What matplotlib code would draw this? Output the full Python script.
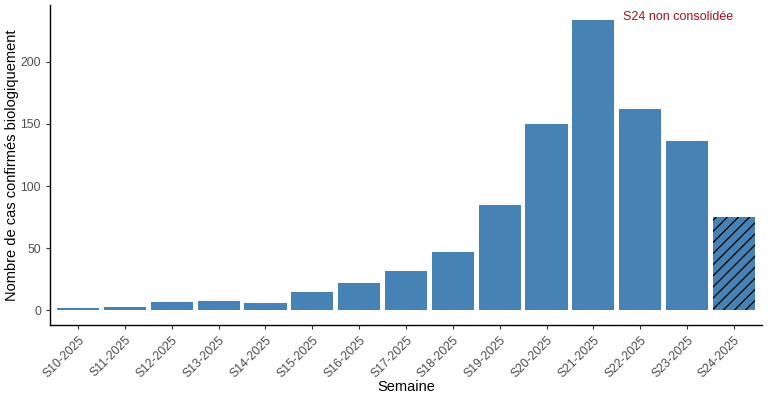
import matplotlib.pyplot as plt
from matplotlib.ticker import FixedLocator

plt.rcParams['font.family'] = ['Liberation Sans', 'DejaVu Sans']
plt.rcParams['hatch.linewidth'] = 0.9

semaines = ['S10-2025', 'S11-2025', 'S12-2025', 'S13-2025', 'S14-2025',
            'S15-2025', 'S16-2025', 'S17-2025', 'S18-2025', 'S19-2025',
            'S20-2025', 'S21-2025', 'S22-2025', 'S23-2025', 'S24-2025']
cas = [2, 3, 7, 8, 6, 15, 22, 32, 47, 85, 150, 234, 162, 136, 75]
non_consolide = 'S24-2025'

bleu = '#4682B4'

fig = plt.figure(figsize=(7.68, 3.94), dpi=100)
ax = fig.add_axes([50 / 768, 1 - 325 / 394, 712 / 768, 320 / 394])

x = list(range(len(semaines)))
bars = ax.bar(x, cas, width=0.9, color=bleu, linewidth=0)
for b, s in zip(bars, semaines):
    if s == non_consolide:
        b.set_hatch('///')
        b.set_edgecolor('black')
        b.set_linewidth(0)

ymax = max(cas)
ax.set_xlim(-0.6, len(semaines) - 0.4)
ax.set_ylim(-0.05 * ymax, 1.05 * ymax)
ax.yaxis.set_major_locator(FixedLocator([0, 50, 100, 150, 200]))
ax.set_xticks(x)
ax.set_xticklabels(semaines, rotation=45, ha='right', rotation_mode='anchor')

ax.text(12.8, 236, 'S24 non consolidée', color='#A50F26', fontsize=9,
        ha='center', va='center')

for sp in ['top', 'right']:
    ax.spines[sp].set_visible(False)
for sp in ['left', 'bottom']:
    ax.spines[sp].set_color('black')
    ax.spines[sp].set_linewidth(1.0)

ax.tick_params(axis='both', colors='#4d4d4d', labelsize=8.8, length=3,
               width=0.8)
ax.tick_params(axis='both', color='#333333')
ax.set_xlabel('Semaine', fontsize=10.5, color='black', labelpad=0)
ax.set_ylabel('Nombre de cas confirmés biologiquement', fontsize=10.5,
              color='black', labelpad=1)

fig.savefig('out.png', dpi=100)
